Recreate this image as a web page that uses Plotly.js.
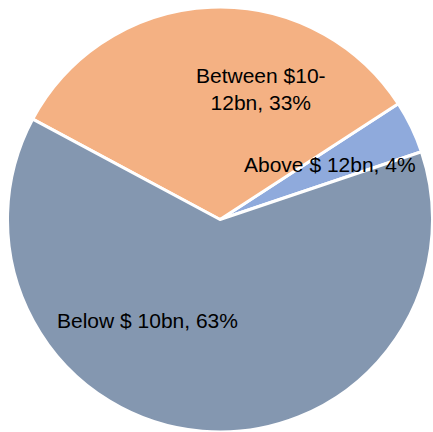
<!DOCTYPE html>
<html>
<head>
<meta charset="utf-8">
<script src="https://cdn.plot.ly/plotly-3.0.1.min.js"></script>
<style>html,body{margin:0;padding:0;background:#fff;}#chart{width:433px;height:432px;}</style>
</head>
<body>
<div id="chart"></div>
<script>
const categories = ["Above $ 12bn", "Between $10-12bn", "Below $ 10bn"];
const labelLines = ["Above $ 12bn", "Between $10-<br>12bn", "Below $ 10bn"];
const shares = [4, 33, 63];
const colors = ["#8FAADC", "#F4B183", "#8497B0"];

// label anchor positions in pixels (x, y from top)
const labelPos = [[330, 164], [261, 89], [147, 320]];
const W = 433, H = 432;

const annotations = categories.map((c, i) => ({
  xref: "paper", yref: "paper",
  x: labelPos[i][0] / W, y: 1 - labelPos[i][1] / H,
  xanchor: "center", yanchor: "middle",
  text: labelLines[i] + ", " + shares[i] + "%",
  showarrow: false,
  align: "center",
  font: {family: "Liberation Sans, Arial, sans-serif", size: 21, color: "#000"}
}));

const trace = {
  type: "pie",
  labels: categories,
  values: shares,
  sort: false,
  direction: "counterclockwise",
  rotation: 57,
  textinfo: "none",
  hoverinfo: "label+percent",
  marker: {colors: colors, line: {color: "#ffffff", width: 3}},
  domain: {x: [7 / W, 1], y: [0, 1 - 7 / H]},
  showlegend: false
};

const layout = {
  width: W, height: H,
  margin: {l: 0, r: 0, t: 0, b: 0},
  paper_bgcolor: "#ffffff",
  showlegend: false,
  annotations: annotations
};

Plotly.newPlot("chart", [trace], layout, {displayModeBar: false, staticPlot: true});
</script>
</body>
</html>
